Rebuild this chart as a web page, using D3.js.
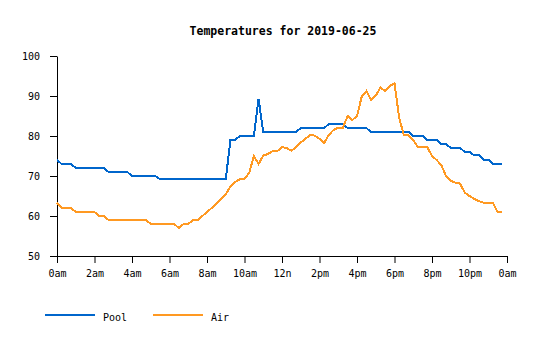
<!DOCTYPE html>
<html><head><meta charset="utf-8">
<script src="https://cdn.jsdelivr.net/npm/d3@7"></script>
<style>
html,body{margin:0;padding:0;background:#fff;}
svg{display:block;}
text{font-family:"DejaVu Sans Mono","Liberation Mono",monospace;fill:#000;}
</style></head>
<body>
<svg id="chart" width="540" height="340"></svg>
<script>
const title = "Temperatures for 2019-06-25";
const seriesNames = ["Pool", "Air"];
const seriesColors = ["#0066cc", "#ff9922"];
const xTickHours = [0,2,4,6,8,10,12,14,16,18,20,22,24];
const xTickLabels = ["0am","2am","4am","6am","8am","10am","12n","2pm","4pm","6pm","8pm","10pm","0am"];
const yTicks = [50,60,70,80,90,100];
const stepHours = 0.25; // one reading every 15 minutes

const pool = [
 74,73,73,73,72,72,72,72,72,72,72,71,71,71,71,71,
 70,70,70,70,70,70,69.2,69.2,69.2,69.2,69.2,69.2,69.2,69.2,69.2,69.2,
 69.2,69.2,69.2,69.2,69.2,79,79,80,80,80,80,89.3,81,81,81,81,
 81,81,81,81,82,82,82,82,82,82,83,83,83,83,82,82,
 82,82,82,81,81,81,81,81,81,81,81,81,80,80,80,79,
 79,79,78,78,77,77,77,76,76,75.2,75.2,74.1,74.1,73,73,73
];
const air = [
 63.3,62,62,62,61,61,61,61,61,60,60,59,59,59,59,59,
 59,59,59,59,58,58,58,58,58,58,57,58,58,59,59,60,
 61,62,63,64.3,65.4,67.4,68.5,69.2,69.3,70.8,75,73,75.1,75.5,
 76.2,76.2,77.2,77,76.3,77.2,78.4,79.3,80.2,80.1,79.3,78.3,80.3,81.5,82.1,82.1,
 85,84,85,89.8,91.2,89.1,90.1,92.1,91.2,92.5,93.2,84.5,80.2,80.2,79,77.2,
 77.2,77.2,75,74,72.7,70,68.8,68.3,68.1,65.8,65,64.3,63.7,63.3,63.3,63.3,
 61,61
];
const series = [pool, air.slice(0, 96)];

const svg = d3.select("#chart");
const margin = {left:57, top:56};
const W = 450, H = 200;

const x = d3.scaleLinear().domain([0,24]).range([0,W]);
const y = d3.scaleLinear().domain([50,100]).range([H,0]);

svg.append("text")
  .attr("x", 283).attr("y", 35)
  .attr("text-anchor","middle")
  .style("font-size","11.5px").style("font-weight","bold")
  .text(title);

const g = svg.append("g").attr("transform",`translate(${margin.left},${margin.top})`);

const xAxis = d3.axisBottom(x).tickValues(xTickHours)
  .tickFormat((d,i)=>xTickLabels[i]).tickSize(7).tickSizeOuter(0).tickPadding(7);
const yAxis = d3.axisLeft(y).tickValues(yTicks).tickSize(7).tickSizeOuter(0).tickPadding(10);

const gx = g.append("g").attr("transform",`translate(0,${H})`).call(xAxis);
const gy = g.append("g").call(yAxis);
[gx,gy].forEach(a=>{
  a.selectAll("text").style("font-size","10px").attr("fill","#000");
  a.selectAll("line,path").attr("stroke","#000");
});

const line = d3.line().x((d,i)=>x(i*stepHours)).y(d=>y(d));
series.forEach((s,k)=>{
  g.append("path").datum(s)
    .attr("fill","none").attr("stroke",seriesColors[k])
    .attr("stroke-width",2).attr("shape-rendering","crispEdges")
    .attr("d",line);
});

// legend
const legendX = [45, 153];
seriesNames.forEach((n,k)=>{
  const lg = svg.append("g").attr("transform",`translate(${legendX[k]},315)`);
  lg.append("line").attr("x1",0).attr("x2",50).attr("y1",0).attr("y2",0)
    .attr("stroke",seriesColors[k]).attr("stroke-width",2);
  lg.append("text").attr("x",58).attr("y",6).style("font-size","10px").text(n);
});
</script>
</body></html>
